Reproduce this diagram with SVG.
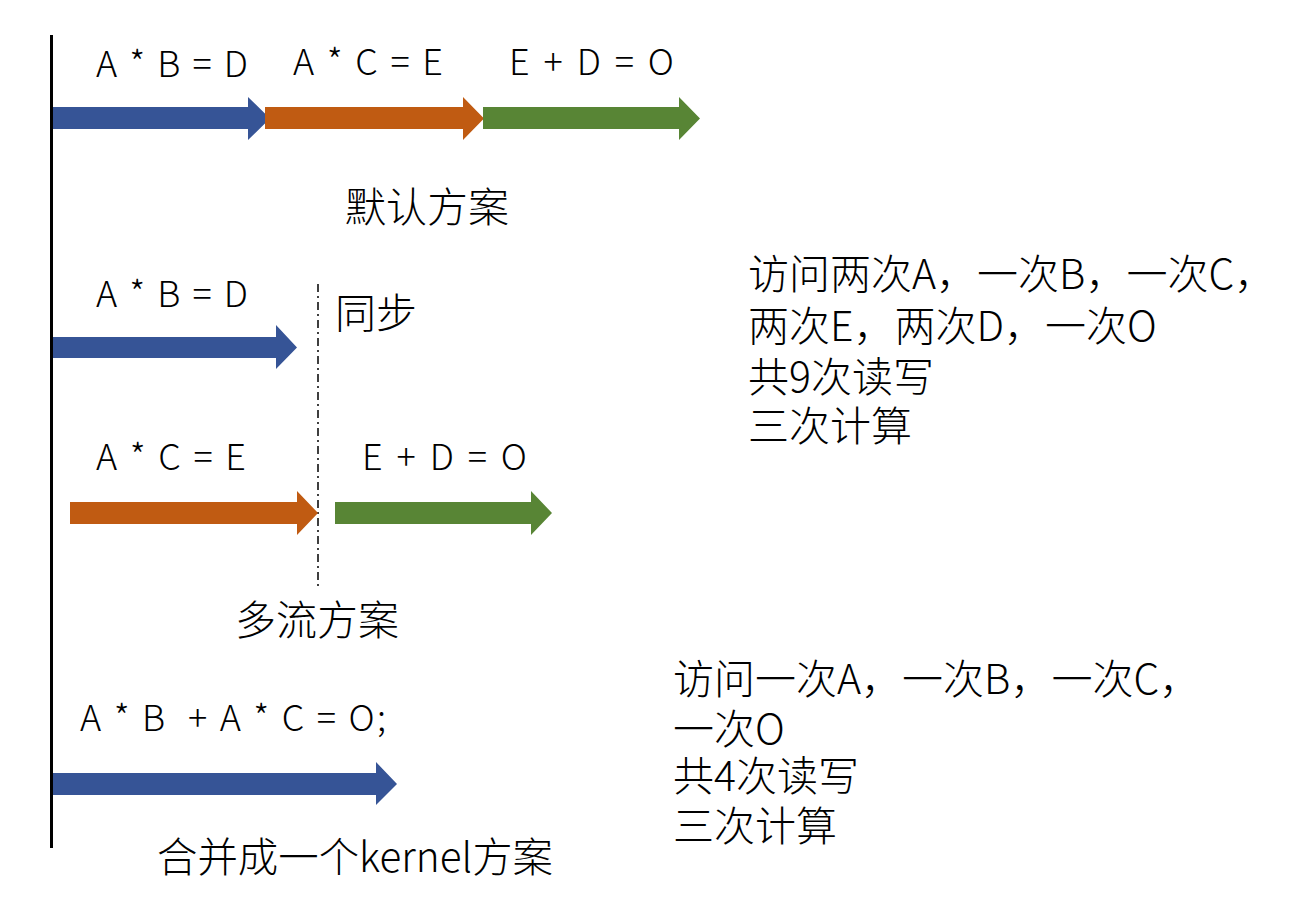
<svg xmlns="http://www.w3.org/2000/svg" width="1294" height="913" viewBox="0 0 1294 913">
<style>
.t{font-family:"Noto Sans CJK SC","Liberation Sans",sans-serif;font-weight:300;fill:#000}
.eq{font-size:36px}
.cn{font-size:41px}
.blue{fill:#365496}
.orange{fill:#c05b12}
.green{fill:#588535}
</style>
<rect width="1294" height="913" fill="#fff"/>
<g id="connectors">
<line x1="51.5" y1="35" x2="51.5" y2="848" stroke="#000" stroke-width="3"/>
<line x1="318" y1="284" x2="318" y2="586" stroke="#000" stroke-width="1.5" stroke-dasharray="8,4,2,4"/>
</g>
<g id="row1">
<polygon class="blue" points="53,107 248,107 248,97 270,118.5 248,140 248,129 53,129"/>
<polygon class="orange" points="265,107 463,107 463,97 484,118.5 463,140 463,129 265,129"/>
<polygon class="green" points="483,107 679,107 679,97 700,118.5 679,140 679,129 483,129"/>
<text class="t eq" x="96" y="77" textLength="152" lengthAdjust="spacing">A * B = D</text>
<text class="t eq" x="293" y="75" textLength="150" lengthAdjust="spacing">A * C = E</text>
<text class="t eq" x="509" y="75" textLength="165" lengthAdjust="spacing">E + D = O</text>
<text class="t cn" x="345" y="222">默认方案</text>
</g>
<g id="row2">
<polygon class="blue" points="53,337 276,337 276,325 297,347.5 276,369 276,358 53,358"/>
<text class="t eq" x="96" y="307" textLength="152" lengthAdjust="spacing">A * B = D</text>
<text class="t cn" x="335" y="328">同步</text>
</g>
<g id="row3">
<polygon class="orange" points="70,502 297,502 297,491 318,513 297,535 297,524 70,524"/>
<polygon class="green" points="335,502 531,502 531,491 552,513 531,535 531,524 335,524"/>
<text class="t eq" x="96" y="470" textLength="150" lengthAdjust="spacing">A * C = E</text>
<text class="t eq" x="362" y="470" textLength="165" lengthAdjust="spacing">E + D = O</text>
<text class="t cn" x="235" y="635">多流方案</text>
</g>
<g id="row4">
<polygon class="blue" points="53,773 376,773 376,762 397,784 376,805 376,795 53,795"/>
<text class="t eq" x="80" y="731" xml:space="preserve" textLength="306" lengthAdjust="spacing">A * B  + A * C = O;</text>
<text class="t cn" x="157" y="872" textLength="396" lengthAdjust="spacingAndGlyphs">合并成一个kernel方案</text>
</g>
<g id="note1">
<text class="t cn" x="748" y="289">访问两次A，一次B，一次C，</text>
<text class="t cn" x="748" y="341">两次E，两次D，一次O</text>
<text class="t cn" x="748" y="392">共9次读写</text>
<text class="t cn" x="748" y="441">三次计算</text>
</g>
<g id="note2">
<text class="t cn" x="673" y="694">访问一次A，一次B，一次C，</text>
<text class="t cn" x="673" y="744">一次O</text>
<text class="t cn" x="673" y="791">共4次读写</text>
<text class="t cn" x="673" y="841">三次计算</text>
</g>
</svg>
